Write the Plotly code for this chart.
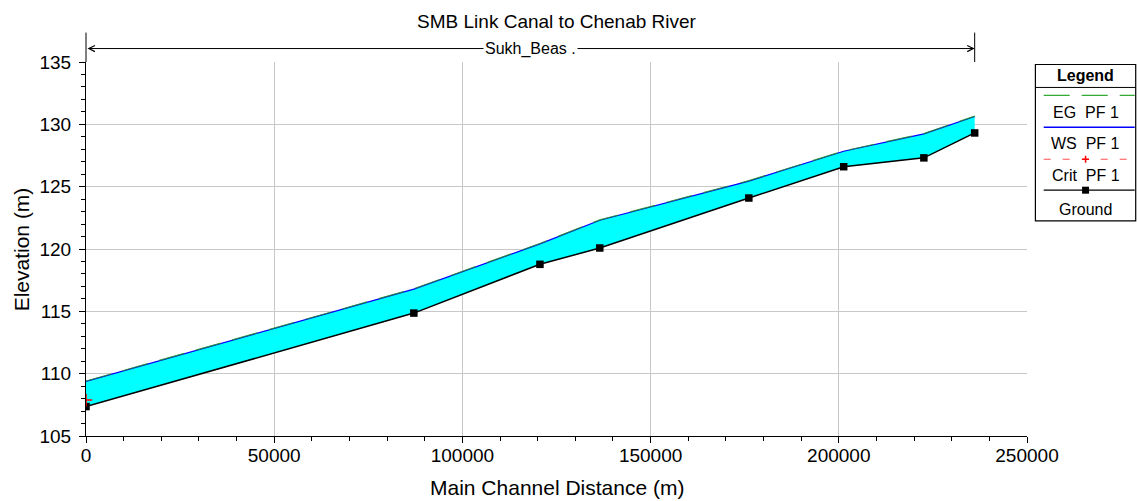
import plotly.graph_objects as go

# ---- data ----
distance = [0, 87100, 120600, 136500, 176100, 201300, 222600, 236100]
ground = [107.36, 114.86, 118.77, 120.08, 124.09, 126.60, 127.31, 129.31]
ws_pf1 = [109.38, 116.78, 120.41, 122.31, 125.45, 127.84, 129.23, 130.63]
eg_pf1 = [109.41, 116.81, 120.44, 122.34, 125.48, 127.87, 129.26, 130.66]
crit_distance = [0]
crit_pf1 = [107.89]

reach_start = 0
reach_end = 236100
reach_name = "Sukh_Beas ."
title_text = "SMB Link Canal to Chenab River"
legend_labels = ["EG  PF 1", "WS  PF 1", "Crit  PF 1", "Ground"]

# ---- geometry ----
W, H = 1137, 501
L, R, T, B = 86.4, 1027.3, 61.5, 436.4
PW, PH = R - L, B - T
FONT = "Liberation Sans, Arial, sans-serif"


def px_x(px):
    return (px - L) / PW


def px_y(py):
    return (B - py) / PH


fig = go.Figure()

# invisible base for fill
fig.add_trace(go.Scatter(x=distance, y=ground, mode="lines",
                         line=dict(width=0, color="rgba(0,0,0,0)"),
                         showlegend=False, hoverinfo="skip"))
# WS with fill down to ground
fig.add_trace(go.Scatter(x=distance, y=ws_pf1, mode="lines", name="WS  PF 1",
                         line=dict(color="#0000ff", width=1.2),
                         fill="tonexty", fillcolor="#00ffff", showlegend=False))
# EG dashed green
fig.add_trace(go.Scatter(x=distance, y=eg_pf1, mode="lines", name="EG  PF 1",
                         line=dict(color="#229922", width=1.2, dash="26px,12px"),
                         opacity=0.8, showlegend=False))
# ground
fig.add_trace(go.Scatter(x=distance, y=ground, mode="lines+markers", name="Ground",
                         line=dict(color="black", width=1.5),
                         marker=dict(symbol="square", size=7.5, color="black"),
                         showlegend=False))
# crit
fig.add_trace(go.Scatter(x=crit_distance, y=crit_pf1, mode="markers", name="Crit  PF 1",
                         marker=dict(symbol="cross-thin", size=9,
                                     line=dict(color="red", width=1.5)),
                         showlegend=False))

shapes = []
annotations = []

# vertical reach-end marker above the plot
shapes.append(dict(type="line", xref="x", yref="paper",
                   x0=reach_end, x1=reach_end, y0=1.0, y1=px_y(32),
                   line=dict(color="black", width=1)))
# extension of the y axis line upward
shapes.append(dict(type="line", xref="paper", yref="paper",
                   x0=0, x1=0, y0=1.0, y1=px_y(32),
                   line=dict(color="black", width=1)))
# double arrow for the reach
annotations.append(dict(xref="x", yref="paper", x=reach_end, y=px_y(48),
                        axref="x", ayref="pixel", ax=reach_start, ay=0,
                        showarrow=True, arrowside="end+start",
                        arrowhead=5, startarrowhead=5, arrowsize=1.2, startarrowsize=1.2,
                        arrowwidth=1, arrowcolor="black", text=""))
annotations.append(dict(xref="x", yref="paper", x=(reach_start + reach_end) / 2, y=px_y(48.5),
                        text=reach_name, showarrow=False, bgcolor="white",
                        font=dict(family=FONT, size=16, color="black"),
                        xanchor="center", yanchor="middle", borderpad=1))

# axis titles
annotations.append(dict(xref="paper", yref="paper", x=0.5, y=px_y(488.5),
                        text="Main Channel Distance (m)", showarrow=False,
                        font=dict(family=FONT, size=21, color="black"),
                        xanchor="center", yanchor="middle"))
annotations.append(dict(xref="paper", yref="paper", x=px_x(21.7), y=px_y(249),
                        text="Elevation (m)", showarrow=False, textangle=-90,
                        font=dict(family=FONT, size=21, color="black"),
                        xanchor="center", yanchor="middle"))

# ---- custom legend box ----
lx0, lx1, ly0, ly1 = 1035.7, 1136.0, 64.0, 220.7
shapes.append(dict(type="rect", xref="paper", yref="paper",
                   x0=px_x(lx0), x1=px_x(lx1), y0=px_y(ly1), y1=px_y(ly0),
                   line=dict(color="black", width=1.2), fillcolor="white"))
shapes.append(dict(type="line", xref="paper", yref="paper",
                   x0=px_x(lx0), x1=px_x(lx1), y0=px_y(87), y1=px_y(87),
                   line=dict(color="black", width=1)))
lcx = (lx0 + lx1) / 2
annotations.append(dict(xref="paper", yref="paper", x=px_x(lcx), y=px_y(75),
                        text="<b>Legend</b>", showarrow=False,
                        font=dict(family=FONT, size=16, color="black"),
                        xanchor="center", yanchor="middle"))
sx0, sx1 = 1044, 1135
sample_y = [95, 127, 159, 190]
text_y = [112, 143, 175, 209]
styles = [dict(color="#33aa33", width=1.3, dash="26px,12px"),
          dict(color="#0000ff", width=1.5),
          dict(color="#ff5050", width=1.2, dash="7px,12px"),
          dict(color="black", width=1.2)]
for sy, ty, st, lab in zip(sample_y, text_y, styles, legend_labels):
    shapes.append(dict(type="line", xref="paper", yref="paper",
                       x0=px_x(sx0), x1=px_x(sx1), y0=px_y(sy), y1=px_y(sy), line=st))
    annotations.append(dict(xref="paper", yref="paper", x=px_x(lcx), y=px_y(ty),
                            text=lab, showarrow=False,
                            font=dict(family=FONT, size=16, color="black"),
                            xanchor="center", yanchor="middle"))
# crit "+" marker
shapes.append(dict(type="line", xref="paper", yref="paper",
                   x0=px_x(lcx - 3.5), x1=px_x(lcx + 3.5), y0=px_y(159), y1=px_y(159),
                   line=dict(color="red", width=1.5)))
shapes.append(dict(type="line", xref="paper", yref="paper",
                   x0=px_x(lcx), x1=px_x(lcx), y0=px_y(155.5), y1=px_y(162.5),
                   line=dict(color="red", width=1.5)))
# ground square marker
shapes.append(dict(type="rect", xref="paper", yref="paper",
                   x0=px_x(lcx - 3.5), x1=px_x(lcx + 3.5), y0=px_y(193.5), y1=px_y(186.5),
                   line=dict(color="black", width=0), fillcolor="black"))

fig.update_layout(
    width=W, height=H,
    margin=dict(l=L, r=W - R, t=T, b=H - B, pad=0),
    paper_bgcolor="white", plot_bgcolor="white",
    font=dict(family=FONT, size=19, color="black"),
    title=dict(text=title_text, x=0.5, xref="paper", y=1 - 21.7 / H, yref="container",
               xanchor="center", yanchor="middle",
               font=dict(family=FONT, size=19, color="black")),
    showlegend=False,
    shapes=shapes, annotations=annotations,
)
fig.update_xaxes(range=[0, 250000], dtick=50000, tick0=0, tickformat="d",
                 showgrid=True, gridcolor="#c8c8c8", gridwidth=1.2,
                 showline=True, linecolor="black", linewidth=1.2,
                 ticks="outside", ticklen=6, tickcolor="black", tickwidth=1,
                 zeroline=False, ticklabelstandoff=-4,
                 tickfont=dict(family=FONT, size=19, color="black"),
                 minor=dict(dtick=10000, ticks="outside", ticklen=4, tickcolor="black",
                            showgrid=False))
fig.update_yaxes(range=[105, 135], dtick=5, tick0=105,
                 showgrid=True, gridcolor="#c8c8c8", gridwidth=1.2,
                 showline=True, linecolor="black", linewidth=1.2,
                 ticks="outside", ticklen=6, tickcolor="black", tickwidth=1,
                 zeroline=False, ticklabelstandoff=4,
                 tickfont=dict(family=FONT, size=19, color="black"),
                 minor=dict(dtick=1, ticks="outside", ticklen=4, tickcolor="black",
                            showgrid=False))

fig.write_html("out.html")
